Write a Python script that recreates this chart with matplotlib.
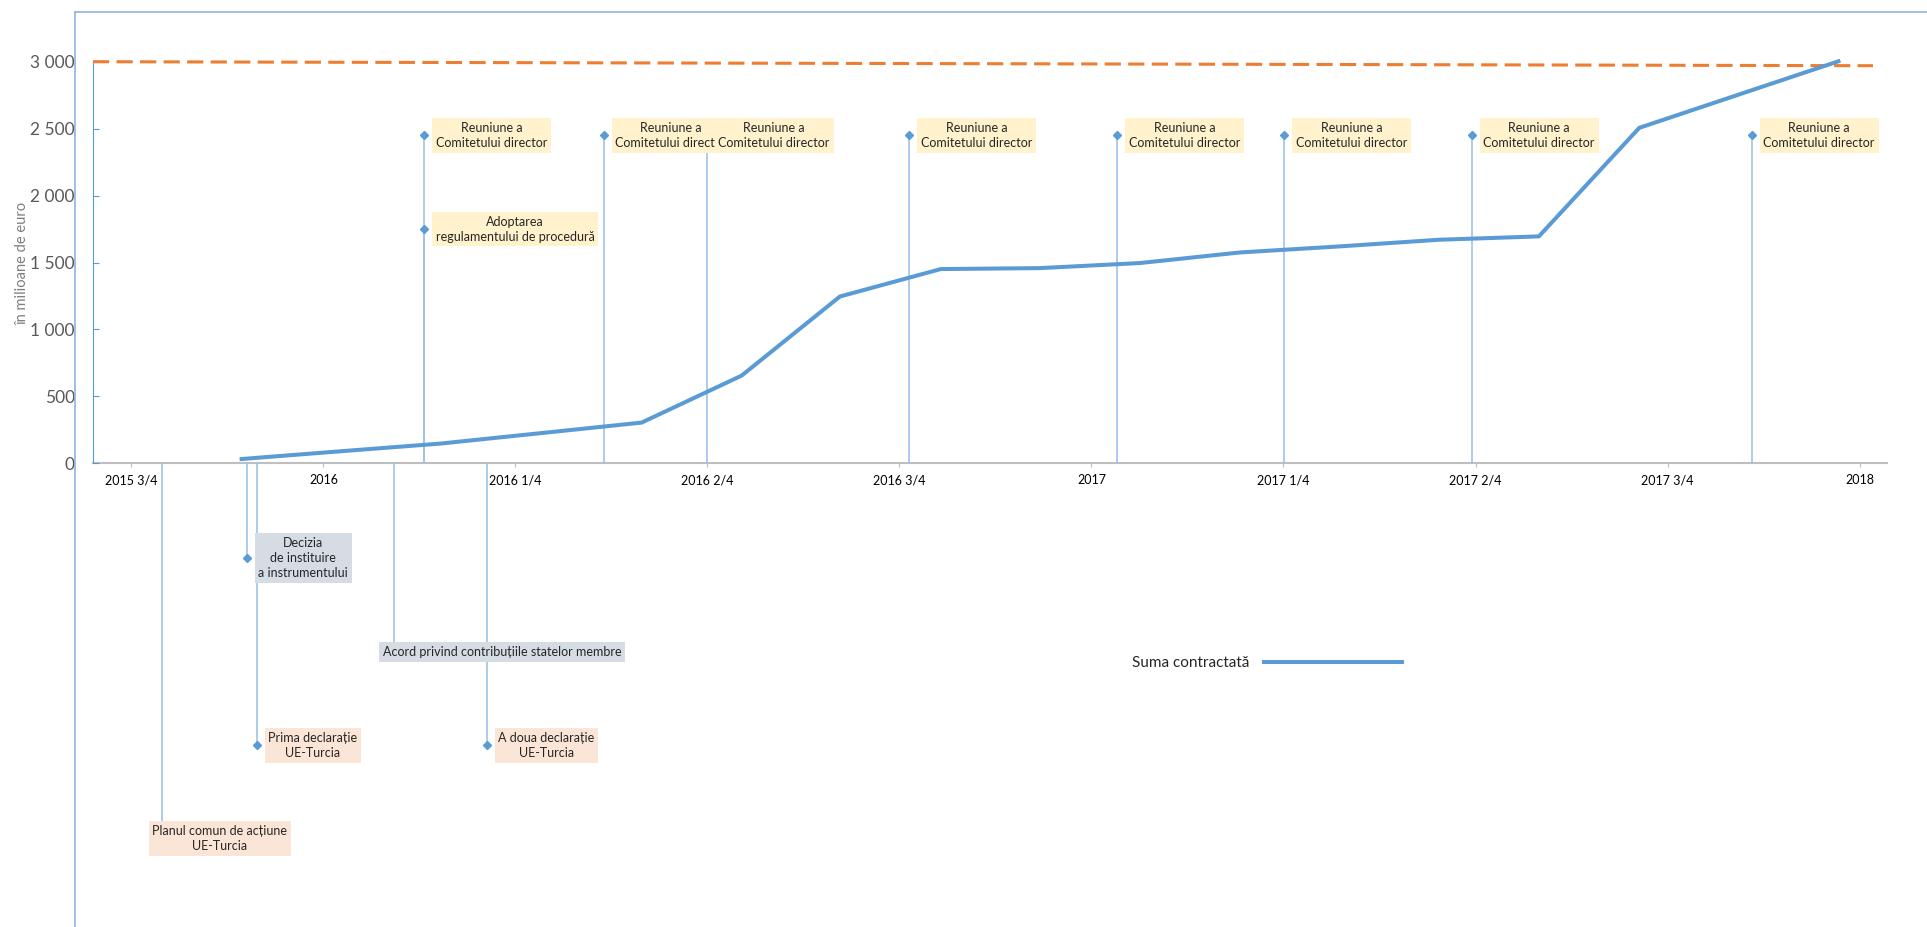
import matplotlib
matplotlib.use("Agg")
import matplotlib.pyplot as plt
from matplotlib.lines import Line2D
from matplotlib.ticker import FuncFormatter

plt.rcParams['font.family'] = ['Lato', 'DejaVu Sans']

# axa x: trimestre numarate de la 2015 3/4
tick_labels = ['2015 3/4', '2016', '2016 1/4', '2016 2/4', '2016 3/4',
               '2017', '2017 1/4', '2017 2/4', '2017 3/4', '2018']

# suma contractata (milioane euro)
suma_q = [0.574, 1.09, 1.607, 2.13, 2.657, 3.178, 3.69, 4.215, 4.73,
          5.253, 5.773, 6.29, 6.81, 7.33, 7.853, 8.37, 8.89]
suma_val = [32, 90, 147, 225, 304, 655, 1246, 1451, 1458,
            1496, 1575, 1620, 1670, 1695, 2506, 2754, 3003]

# bugetul total (linia punctata)
buget_q = [-0.2, 9.07]
buget_val = [3000, 2970]

# evenimente
ev_labels = ['Planul comun de acțiune\nUE-Turcia',
             'Decizia\nde instituire\na instrumentului',
             'Prima declarație\nUE-Turcia',
             'Acord privind contribuțiile statelor membre',
             'A doua declarație\nUE-Turcia',
             'Reuniune a\nComitetului director',
             'Adoptarea\nregulamentului de procedură',
             'Reuniune a\nComitetului director',
             'Reuniune a\nComitetului director',
             'Reuniune a\nComitetului director',
             'Reuniune a\nComitetului director',
             'Reuniune a\nComitetului director',
             'Reuniune a\nComitetului director',
             'Reuniune a\nComitetului director']
ev_q = [0.157, 0.6, 0.652, 1.367, 1.85, 1.523, 1.523, 2.459, 2.996,
        4.05, 5.133, 6.003, 6.98, 8.438]
ev_val = [-2802, -707, -2107, -1410, -2107, 2450, 1750, 2450, 2450,
          2450, 2450, 2450, 2450, 2450]
ev_tip = ['ue', 'instr', 'ue', 'instr', 'ue', 'com', 'com', 'com', 'com',
          'com', 'com', 'com', 'com', 'com']

culori_box = {'ue': '#FBE5D6', 'instr': '#D6DCE4', 'com': '#FFF2CC'}
# etichete mutate manual (centrul casetei)
eticheta_mutata = {0: 0.461, 3: 1.93}

W, H = 1927, 927
fig = plt.figure(figsize=(W / 100, H / 100), dpi=100)
ax = fig.add_axes([93 / W, 1 - 463.3 / H, (1887 - 93) / W, (463.3 - 61.7) / H])
ax.set_xlim(-0.2, 9.143)
ax.set_ylim(0, 3000)

albastru = '#5B9BD5'
linie_ev = '#9DC3E6'

# liniile verticale ale evenimentelor
for i, (q, v) in enumerate(zip(ev_q, ev_val)):
    ax.plot([q, q], [0, v], color=linie_ev, lw=1.2, zorder=1, clip_on=False)
    ax.plot(q, v, marker='D', ms=4.5, color=albastru, zorder=2, clip_on=False)

ax.plot(buget_q, buget_val, color='#ED7D31', lw=2.2, dashes=(5.3, 2.4),
        zorder=3, clip_on=False)
linie, = ax.plot(suma_q, suma_val, color=albastru, lw=2.9, zorder=3,
                 solid_joinstyle='miter', clip_on=False)

for i, (txt, q, v, t) in enumerate(zip(ev_labels, ev_q, ev_val, ev_tip)):
    box = dict(boxstyle='square,pad=0.3', fc=culori_box[t], ec='none')
    if i in eticheta_mutata:
        ax.text(eticheta_mutata[i], v, txt, ha='center', va='center',
                multialignment='center', fontsize=9, linespacing=1.3,
                color='#262626', bbox=box, zorder=5, clip_on=False)
    else:
        ax.annotate(txt, xy=(q, v), xytext=(8.5, 0), textcoords='offset points',
                    ha='left', va='center', multialignment='center',
                    fontsize=9, linespacing=1.3, color='#262626', bbox=box,
                    zorder=5, annotation_clip=False)

# axe
ax.set_xticks(range(len(tick_labels)))
ax.set_xticklabels(tick_labels)
ax.set_yticks([0, 500, 1000, 1500, 2000, 2500, 3000])
ax.yaxis.set_major_formatter(FuncFormatter(lambda v, p: f"{v:,.0f}".replace(",", " ")))
for s in ['top', 'right']:
    ax.spines[s].set_visible(False)
ax.spines['left'].set_color(albastru)
ax.spines['left'].set_linewidth(0.8)
ax.spines['bottom'].set_color('#BFBFBF')
ax.spines['bottom'].set_linewidth(1.5)
ax.spines['bottom'].set_zorder(0.5)
ax.tick_params(axis='y', direction='in', length=4.3, color=albastru,
               labelsize=12.5, labelcolor='#595959', pad=13)
ax.tick_params(axis='x', direction='out', length=3, color='#BFBFBF',
               labelsize=9, labelcolor='#000000', pad=5)

fig.text(22 / W, 1 - 263 / H, 'în milioane de euro', rotation=90, ha='center',
         va='center', fontsize=10.5, color='#7F7F7F')

# chenarul graficului
fig.add_artist(Line2D([75 / W, 75 / W], [0, 1 - 11.7 / H], color='#8DB4E2', lw=1.2))
fig.add_artist(Line2D([75 / W, 1], [1 - 11.7 / H, 1 - 11.7 / H], color='#8DB4E2', lw=1.2))

ax.legend([linie], ['Suma contractată'], loc='center left',
          bbox_to_anchor=(1131.7 / W, 1 - 663 / H), bbox_transform=fig.transFigure,
          frameon=False, markerfirst=False, handlelength=9.0, handletextpad=1.0,
          borderpad=0, borderaxespad=0, fontsize=11, labelcolor='#262626')

fig.savefig('out.png', dpi=100)
